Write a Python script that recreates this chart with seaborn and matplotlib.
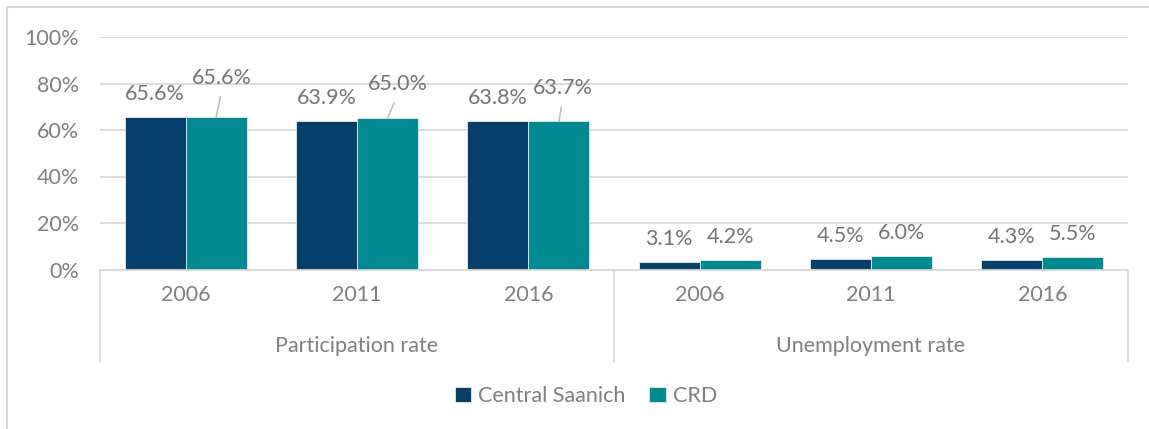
import pandas as pd
import seaborn as sns
import matplotlib.pyplot as plt
import matplotlib.transforms as mtransforms
from matplotlib.ticker import PercentFormatter
from matplotlib.lines import Line2D

groups = ["Participation rate", "Unemployment rate"]
years = ["2006", "2011", "2016"]
areas = ["Central Saanich", "CRD"]
central_saanich = [65.6, 63.9, 63.8, 3.1, 4.5, 4.3]
crd = [65.6, 65.0, 63.7, 4.2, 6.0, 5.5]

colors = ["#053F6A", "#028A92"]
grey_txt = "#7F7F7F"
label_txt = "#747474"
line_col = "#D9D9D9"
fs = 15.5

slots = [f"{g}|{y}" for g in groups for y in years]
df = pd.DataFrame({
    "slot": slots * 2,
    "area": [areas[0]] * len(slots) + [areas[1]] * len(slots),
    "value": central_saanich + crd,
})

sns.set_theme(style="white")
plt.rcParams["font.family"] = ["Lato", "DejaVu Sans"]

W, H = 1149, 429
fig = plt.figure(figsize=(W / 100, H / 100), dpi=100)
ax = fig.add_axes([100 / W, 1 - 269.5 / H, 1028 / W, 232.5 / H])

sns.barplot(data=df, x="slot", y="value", hue="area", palette=colors,
            width=0.714, saturation=1, edgecolor="#E4ECEF", linewidth=0.6, ax=ax)

ax.set_ylim(0, 100)
ax.set_xlim(-0.5, 5.5)
ax.set_yticks(range(0, 101, 20))
ax.yaxis.set_major_formatter(PercentFormatter(decimals=0))
ax.set_xticks(range(len(slots)))
ax.set_xticklabels(years * 2)
ax.set_xlabel("")
ax.set_ylabel("")
ax.tick_params(axis="y", length=0, pad=15, labelsize=fs, labelcolor=grey_txt)
ax.tick_params(axis="x", length=0, pad=11, labelsize=fs, labelcolor=grey_txt)
ax.yaxis.grid(True, color=line_col, lw=1.3)
ax.set_axisbelow(True)
for s in ["top", "right", "left"]:
    ax.spines[s].set_visible(False)
ax.spines["bottom"].set_color(line_col)
ax.spines["bottom"].set_linewidth(1.3)

# two-level category axis
trans = mtransforms.blended_transform_factory(ax.transData, ax.transAxes)
for xs in [-0.5, 2.5, 5.5]:
    ax.plot([xs, xs], [0, -0.398], transform=trans, color=line_col, lw=1.3, clip_on=False)
for i, g in enumerate(groups):
    ax.text(1 + 3 * i, -0.329, g, transform=trans, ha="center", va="center",
            fontsize=fs, color=grey_txt)

# data labels
for bar, v in zip(ax.containers[0], central_saanich):
    ax.annotate(f"{v:.1f}%", xy=(bar.get_x() + bar.get_width() / 2, bar.get_height()),
                xytext=(0, 23), textcoords="offset pixels", ha="center", va="center",
                fontsize=fs, color=label_txt)

crd_offsets = [(6, 39), (10, 34), (4, 33), (0, 23), (0, 23), (0, 23)]
for bar, v, (dx, dy) in zip(ax.containers[1], crd, crd_offsets):
    xy = (bar.get_x() + bar.get_width() / 2, bar.get_height())
    arrow = None
    if dy > 25:
        arrow = dict(arrowstyle="-", color="#BFBFBF", lw=1.2, shrinkA=4, shrinkB=0, relpos=(0.5, 0))
    ax.annotate(f"{v:.1f}%", xy=xy, xytext=(dx, dy), textcoords="offset pixels",
                ha="center", va="center", fontsize=fs, color=label_txt, arrowprops=arrow)

sns.move_legend(ax, "center", bbox_to_anchor=(0.51, 1 - 396 / H), bbox_transform=fig.transFigure,
                ncol=2, frameon=False, title=None, fontsize=fs, handlelength=0.75, handleheight=0.75,
                handletextpad=0.35, columnspacing=1.1, labelcolor=grey_txt)

# chart frame: only top and left edges are visible in the crop
fig.add_artist(Line2D([7 / W, 1], [1 - 7 / H, 1 - 7 / H], transform=fig.transFigure, color=line_col, lw=1.5))
fig.add_artist(Line2D([7 / W, 7 / W], [0, 1 - 7 / H], transform=fig.transFigure, color=line_col, lw=1.5))

fig.savefig("out.png", dpi=100)
